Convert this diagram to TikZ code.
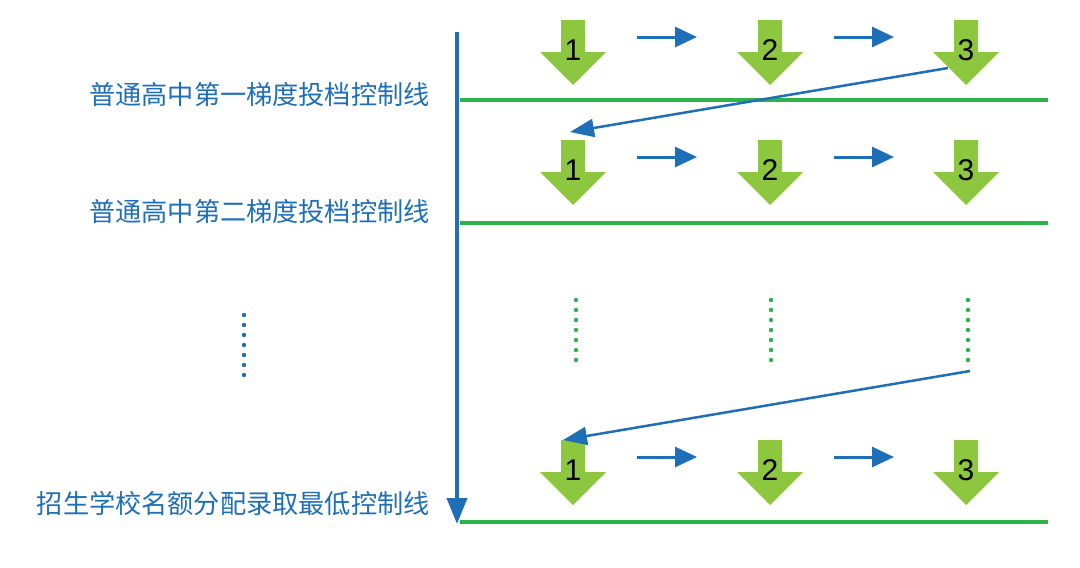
\documentclass[tikz,border=0pt]{standalone}
\usepackage{fontspec}
\setmainfont{Liberation Sans}
\newfontfamily\cjk{Noto Sans CJK SC}
\usetikzlibrary{arrows.meta}
\definecolor{lblue}{HTML}{1F6FB8}
\definecolor{lgreen}{HTML}{2DB34A}
\definecolor{agreen}{HTML}{8DC63F}
\tikzset{
 lvl/.style={lgreen,line width=4pt},
 flow/.style={lblue,line width=3pt,-{Triangle[length=22pt,width=20pt]}},
 diag/.style={lblue,line width=2.5pt,-{Triangle[length=24pt,width=18pt]}},
 lab/.style={lblue,font=\cjk\fontsize{26.2}{28}\selectfont,anchor=east,inner sep=0},
 num/.style={font=\fontsize{30}{32}\selectfont,inner sep=0}
}
\newcommand{\darr}[4]{% cx, top, label, name
 \fill[agreen] (#1-12,#2) -- (#1+12,#2) -- (#1+12,#2+32) -- (#1+33,#2+32) -- (#1,#2+65) -- (#1-33,#2+32) -- (#1-12,#2+32) -- cycle;
 \node[num] (#4) at (#1,#2+30) {#3};}
\begin{document}
\begin{tikzpicture}[x=1pt,y=-1pt]
\useasboundingbox (0,0) rectangle (1080,568);
\coordinate (ax0) at (457,32); \coordinate (ax1) at (457,524);
\draw[lblue,line width=4pt,-{Triangle[length=26pt,width=20pt]}] (ax0) -- (ax1);
\foreach \y/\n in {100/a,223/b,522/c}{
 \coordinate (l\n0) at (460,\y); \coordinate (l\n1) at (1048,\y);
 \draw[lvl] (l\n0) -- (l\n1);}
\node[lab] (t1) at (430,95) {普通高中第一梯度投档控制线};
\node[lab] (t2) at (430,212) {普通高中第二梯度投档控制线};
\node[lab] (t3) at (430,503) {招生学校名额分配录取最低控制线};
\foreach \t/\r in {20/a,140/b,440/c}{
 \darr{573}{\t}{1}{\r1}
 \darr{770}{\t}{2}{\r2}
 \darr{966}{\t}{3}{\r3}
 \coordinate (\r p1) at (637,\t+17); \coordinate (\r p2) at (697,\t+17);
 \coordinate (\r q1) at (834,\t+17); \coordinate (\r q2) at (894,\t+17);
 \draw[flow] (\r p1) -- (\r p2);
 \draw[flow] (\r q1) -- (\r q2);}
\coordinate (d1s) at (948,68); \coordinate (d1e) at (570,132);
\draw[diag] (d1s) -- (d1e);
\coordinate (d2s) at (970,371); \coordinate (d2e) at (563,440);
\draw[diag] (d2s) -- (d2e);
\foreach \x in {576,771,968}
 \foreach \y in {300,310,...,362} \fill[lgreen] (\x,\y) circle (2.2);
\foreach \y in {315,325,...,375} \fill[lblue] (244,\y) circle (2.2);
\end{tikzpicture}
\end{document}
